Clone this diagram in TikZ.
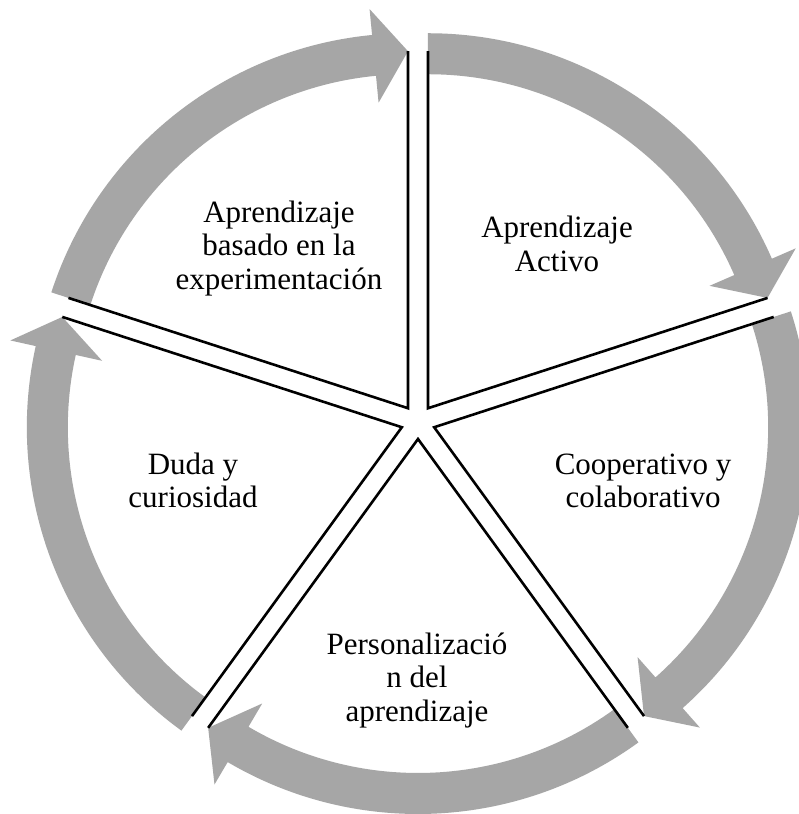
\documentclass[tikz,border=0pt]{standalone}
\usepackage{fontspec}
\setmainfont{Liberation Serif}
\definecolor{arrowgrey}{HTML}{A6A6A6}
\begin{document}
\begin{tikzpicture}[x=1pt,y=1pt,
  lbl/.style={anchor=base,inner sep=0pt,font=\fontsize{31}{34}\selectfont},
  edge/.style={draw=black,line width=2.6pt,line join=miter}]
\useasboundingbox[fill=white] (0,0) rectangle (799,814);
\coordinate (C) at (418,392);
\foreach \k/\b in {1/54,2/-18,3/-90,4/-162,5/126}{
  \coordinate (O\k) at ([shift={(\b:17)}]C);
  \fill[arrowgrey] ([shift={(O\k)}] {\b+36}:375)
     arc[start angle=\b+36, end angle=\b-30.5, radius=375]
     -- ([shift={(O\k)}] {\b-30.5}:401)
     -- ([shift={(O\k)}] {\b-36}:357)
     -- ([shift={(O\k)}] {\b-30.5}:307)
     -- ([shift={(O\k)}] {\b-30.5}:334)
     arc[start angle=\b-30.5, end angle=\b+36, radius=334]
     -- cycle;
}
\foreach \k/\b in {1/54,2/-18,3/-90,4/-162,5/126}{
  \draw[edge] ([shift={(O\k)}] {\b+36}:357) -- (O\k) -- ([shift={(O\k)}] {\b-36}:357);
}
% texts
\node[lbl] (t1a) at (557,576) {Aprendizaje};
\node[lbl] (t1b) at (557,542) {Activo};
\node[lbl] (t2a) at (643,339) {Cooperativo y};
\node[lbl] (t2b) at (643,306) {colaborativo};
\node[lbl] (t3a) at (417,159) {Personalizació};
\node[lbl] (t3b) at (417,126) {n del};
\node[lbl] (t3c) at (417,92) {aprendizaje};
\node[lbl] (t4a) at (193,339) {Duda y};
\node[lbl] (t4b) at (193,306) {curiosidad};
\node[lbl] (t5a) at (279,591) {Aprendizaje};
\node[lbl] (t5b) at (279,558) {basado en la};
\node[lbl] (t5c) at (279,524) {experimentación};
\end{tikzpicture}
\end{document}
